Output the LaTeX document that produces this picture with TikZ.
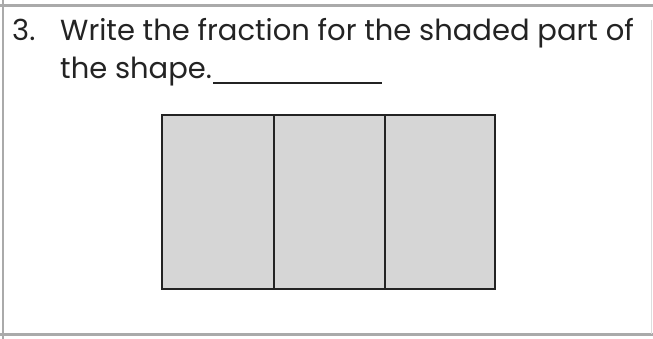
\documentclass[tikz,border=0pt]{standalone}
\usepackage{fontspec}
\setmainfont{Poppins}
\definecolor{framegray}{RGB}{170,170,170}
\definecolor{cellgray}{RGB}{214,214,214}
\definecolor{ink}{RGB}{35,35,35}
\tikzset{
  qtext/.style={anchor=base west, inner sep=0pt, text=ink, font=\fontsize{29}{34}\selectfont},
  cellline/.style={draw=ink, line width=1.8pt},
}
\begin{document}
\begin{tikzpicture}[x=1pt,y=-1pt]
\useasboundingbox (0,0) rectangle (653,339);
\fill[white] (0,0) rectangle (653,339);
% page frame
\draw[framegray, line width=3pt] (0,5.5) -- (653,5.5);
\draw[framegray, line width=2pt] (3,0) -- (3,339);
\draw[framegray, line width=3pt] (0,334.5) -- (653,334.5);
\draw[framegray!40, line width=1pt] (651,20) -- (651,334);
% text
\node[qtext] (num) at (12,41) {3.};
\node[qtext] (l1) at (60,41) {Write the fraction for the shaded part of};
\node[qtext] (l2) at (60,79) {the shape.};
\coordinate (ua) at (213,83);
\coordinate (ub) at (382,83);
\draw[ink, line width=1.5pt] (ua) -- (ub);
% shape
\fill[cellgray] (162,115) rectangle (495,289);
\draw[cellline] (162,115) rectangle (495,289);
\draw[cellline] (274,115) -- (274,289);
\draw[cellline] (385,115) -- (385,289);
\end{tikzpicture}
\end{document}
